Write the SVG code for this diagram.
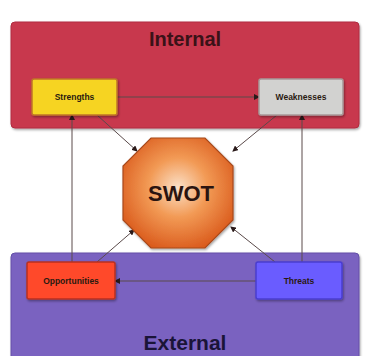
<svg xmlns="http://www.w3.org/2000/svg" width="366" height="356" viewBox="0 0 366 356">
<defs>
<style>
.lbl{font-family:"Liberation Sans",Arial,sans-serif;font-weight:bold;text-anchor:middle}
.small{font-size:8.5px;fill:#2a1a10}
.conn{stroke:#5a4a4a;stroke-width:1;fill:none;marker-end:url(#ah)}
</style>
<marker id="ah" markerWidth="6" markerHeight="6" refX="5" refY="3" orient="auto" markerUnits="userSpaceOnUse">
<path d="M0,0 L6,3 L0,6 z" fill="#2a1a1a"/>
</marker>
<radialGradient id="og" cx="0.5" cy="0.45" r="0.6">
<stop offset="0" stop-color="#fbe0c8"/>
<stop offset="0.45" stop-color="#f29a55"/>
<stop offset="1" stop-color="#d9581a"/>
</radialGradient>
<filter id="sh" x="-10%" y="-10%" width="130%" height="130%">
<feDropShadow dx="1" dy="1.5" stdDeviation="1.2" flood-color="#000" flood-opacity="0.35"/>
</filter>
</defs>
<rect width="366" height="356" fill="#ffffff"/>
<g id="internal">
<rect x="11" y="22" width="348" height="106" rx="4" fill="#c8384e" stroke="#b02c40" filter="url(#sh)"/>
<text class="lbl" x="185" y="46" font-size="20" fill="#3a1218">Internal</text>
</g>
<g id="external">
<rect x="11" y="253" width="348" height="115" rx="4" fill="#7a62c0" stroke="#6450a8" filter="url(#sh)"/>
<text class="lbl" x="185" y="350" font-size="21" fill="#1a1438">External</text>
</g>
<g id="connectors">
<line class="conn" x1="117" y1="97" x2="259" y2="97" stroke="#7a1a28"/>
<line class="conn" x1="256" y1="281" x2="115" y2="281"/>
<line class="conn" x1="72" y1="262" x2="72" y2="115"/>
<line class="conn" x1="302" y1="262" x2="302" y2="115"/>
<line class="conn" x1="97" y1="115" x2="137" y2="151"/>
<line class="conn" x1="277" y1="115" x2="233" y2="151"/>
<line class="conn" x1="97" y1="262" x2="134" y2="230"/>
<line class="conn" x1="275" y1="262" x2="231" y2="227"/>
</g>
<g id="strengths">
<rect x="32" y="79" width="85" height="36" rx="2" fill="#f6d424" stroke="#c0742a" stroke-width="1.5" filter="url(#sh)"/>
<text class="lbl small" x="74.5" y="100">Strengths</text>
</g>
<g id="weaknesses">
<rect x="259" y="79" width="84" height="36" rx="2" fill="#d2d2d0" stroke="#a89898" stroke-width="1.5" filter="url(#sh)"/>
<text class="lbl small" x="301" y="100" fill="#1a1a1a">Weaknesses</text>
</g>
<g id="opportunities">
<rect x="27" y="262" width="88" height="37" rx="2" fill="#ff4a2a" stroke="#b83020" stroke-width="1.5" filter="url(#sh)"/>
<text class="lbl small" x="71" y="284" fill="#3a0a08">Opportunities</text>
</g>
<g id="threats">
<rect x="256" y="262" width="86" height="37" rx="2" fill="#6a5cff" stroke="#4a3cd0" stroke-width="1.5" filter="url(#sh)"/>
<text class="lbl small" x="299" y="284" fill="#1a1440">Threats</text>
</g>
<g id="swot">
<polygon points="151,138 205,138 233,166 233,220 205,248 151,248 123,220 123,166" fill="url(#og)" stroke="#a84a1c" stroke-width="1.2" filter="url(#sh)"/>
<text class="lbl" x="181" y="201" font-size="22" fill="#2a1410">SWOT</text>
</g>
</svg>
